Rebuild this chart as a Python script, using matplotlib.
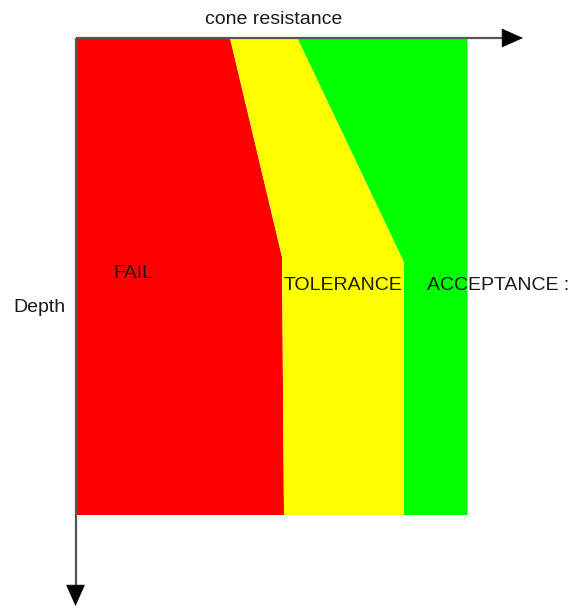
import matplotlib
matplotlib.use("Agg")
import matplotlib.pyplot as plt
import numpy as np

# Zone limits (cone resistance vs depth), arbitrary units
fail_depth = [0, 219, 477]
fail_limit = [154.5, 206.5, 208.5]
tol_depth = [0, 224, 477]
tol_limit = [222.0, 328.5, 328.5]
accept_limit = 392.0
max_depth = 477
zone_labels = ["FAIL", "TOLERANCE", "ACCEPTANCE :"]
zone_colors = ["#ff0000", "#ffff00", "#00ff00"]

plt.rcParams['font.family'] = ['Liberation Sans', 'DejaVu Sans']

fig = plt.figure(figsize=(5.68, 6.08), dpi=100)
ax = fig.add_axes([0, 0, 1, 1])
ax.set_xlim(-75.5, 492.5)
ax.set_ylim(570, -38)
ax.axis('off')

fd = np.array(fail_depth, float); fl = np.array(fail_limit, float)
td = np.array(tol_depth, float); tl = np.array(tol_limit, float)

# FAIL zone
xs = np.concatenate([[0], fl, [0]])
ys = np.concatenate([[0], fd, [max_depth]])
ax.fill(xs, ys, color=zone_colors[0], lw=0, zorder=1)
# TOLERANCE zone
xs = np.concatenate([fl, tl[::-1]])
ys = np.concatenate([fd, td[::-1]])
ax.fill(xs, ys, color=zone_colors[1], lw=0, zorder=1)
# ACCEPTANCE zone
xs = np.concatenate([tl, [accept_limit, accept_limit]])
ys = np.concatenate([td, [max_depth, 0]])
ax.fill(xs, ys, color=zone_colors[2], lw=0, zorder=1)

# Axes lines (grey) and arrowheads (black)
ax.plot([0, 430], [0, 0], color='#555555', lw=1.6, zorder=3, solid_capstyle='butt')
ax.plot([0, 0], [0, 552], color='#555555', lw=1.6, zorder=3, solid_capstyle='butt')
arrow = dict(arrowstyle='-|>,head_length=0.72,head_width=0.32', color='#000000',
             lw=0.5, mutation_scale=20, shrinkA=0, shrinkB=0)
ax.annotate('', xy=(447.5, 0), xytext=(427, 0), arrowprops=arrow, zorder=4)
ax.annotate('', xy=(0, 568), xytext=(0, 548), arrowprops=arrow, zorder=4)

tc = '#1a1a1a'
fs = 14
ax.text(198.5, -19, "cone resistance", ha='center', va='center', fontsize=fs, color=tc)
ax.text(-36.5, 269, "Depth", ha='center', va='center', fontsize=fs, color=tc)
ax.text(57.5, 235, zone_labels[0], ha='center', va='center', fontsize=fs, color=tc)
ax.text(267, 247, zone_labels[1], ha='center', va='center', fontsize=fs, color=tc)
ax.text(351.5, 247, zone_labels[2], ha='left', va='center', fontsize=fs, color=tc)

fig.savefig("out.png", dpi=100)
